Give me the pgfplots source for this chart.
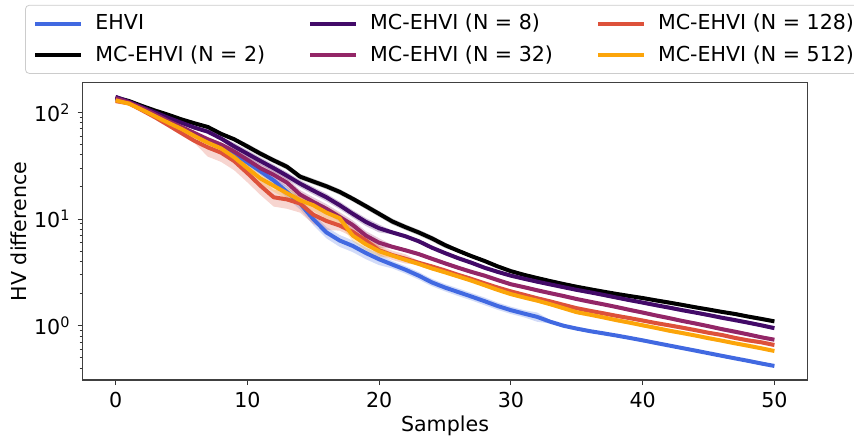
\documentclass[border=0pt]{standalone}
\usepackage{pgfplots}
\pgfplotsset{compat=1.18}
\usepackage{pgfplotstable}
\usepgfplotslibrary{fillbetween}
\usepackage{fontspec}
\setmainfont{DejaVu Sans}

\definecolor{cEHVI}{HTML}{4169E1}
\definecolor{cNtwo}{HTML}{000000}
\definecolor{cNeight}{HTML}{420A68}
\definecolor{cNthirtytwo}{HTML}{932667}
\definecolor{cNonetwentyeight}{HTML}{DD513A}
\definecolor{cNfivetwelve}{HTML}{FCA50A}

% columns: sample, mean, lower and upper edge of the band
\pgfplotstableread{
s m lo hi
0 133 129 137
1 125 121.3 128.8
2 108 104.8 111.2
3 94 91.2 96.8
4 81 78.6 83.4
5 71 68.9 73.1
6 62 60.1 63.9
7 54 52.4 55.6
8 49 47.5 50.5
9 41 37.7 44.3
10 34 31.3 36.7
11 28 25.8 30.2
12 23 21.2 24.8
13 18 15.8 20.2
14 14 12.3 15.7
15 10 8.8 11.2
16 7.5 6.6 8.4
17 6.3 5.5 7.1
18 5.6 4.9 6.3
19 4.8 4.2 5.4
20 4.2 3.7 4.7
21 3.75 3.45 4.05
22 3.35 3.08 3.62
23 2.95 2.71 3.19
24 2.55 2.35 2.75
25 2.28 2.10 2.46
26 2.07 1.90 2.24
27 1.88 1.73 2.03
28 1.70 1.56 1.84
29 1.53 1.41 1.65
30 1.40 1.29 1.51
31 1.30 1.20 1.40
32 1.21 1.09 1.33
33 1.09 1.05 1.13
34 1.00 0.97 1.03
35 0.94 0.91 0.97
36 0.89 0.86 0.92
37 0.85 0.82 0.88
38 0.81 0.79 0.83
39 0.77 0.75 0.79
40 0.73 0.71 0.75
41 0.69 0.67 0.71
42 0.653 0.633 0.673
43 0.618 0.600 0.636
44 0.585 0.567 0.603
45 0.553 0.536 0.570
46 0.523 0.507 0.539
47 0.495 0.480 0.510
48 0.469 0.455 0.483
49 0.443 0.430 0.456
50 0.42 0.407 0.433
}\tblEHVI

\pgfplotstableread{
s m lo hi
0 138 132.5 143.5
1 128 122.9 133.1
2 115 110.4 119.6
3 104 99.8 108.2
4 95 91.2 98.8
5 86 82.6 89.4
6 79 75.8 82.2
7 73 70.1 75.9
8 63 60.5 65.5
9 56 53.8 58.2
10 48 45.1 50.9
11 41 38.5 43.5
12 35.5 33.4 37.6
13 31 29.1 32.9
14 25 23.5 26.5
15 22.5 21.2 23.9
16 20.3 19.1 21.5
17 18 16.9 19.1
18 15.5 14.6 16.4
19 13.2 12.4 14.0
20 11.2 10.5 11.9
21 9.5 8.9 10.1
22 8.4 7.9 8.9
23 7.5 7.05 7.95
24 6.6 6.2 7.0
25 5.7 5.36 6.04
26 5.05 4.85 5.25
27 4.5 4.32 4.68
28 4.05 3.89 4.21
29 3.6 3.46 3.74
30 3.25 3.12 3.38
31 3.0 2.88 3.12
32 2.8 2.69 2.91
33 2.62 2.52 2.72
34 2.46 2.36 2.56
35 2.32 2.23 2.41
36 2.2 2.11 2.29
37 2.09 2.01 2.17
38 1.99 1.91 2.07
39 1.9 1.82 1.98
40 1.82 1.75 1.89
41 1.73 1.66 1.80
42 1.65 1.58 1.72
43 1.57 1.51 1.63
44 1.49 1.43 1.55
45 1.42 1.36 1.48
46 1.35 1.30 1.40
47 1.29 1.24 1.34
48 1.22 1.17 1.27
49 1.16 1.11 1.21
50 1.10 1.06 1.14
}\tblNtwo

\pgfplotstableread{
s m lo hi
0 140 134.4 145.6
1 126 121.0 131.0
2 112 107.5 116.5
3 100 96 104
4 89 85.4 92.6
5 80 76.8 83.2
6 72 69.1 74.9
7 66 63.4 68.6
8 57 54.7 59.3
9 48 44.2 51.8
10 41 37.7 44.3
11 35 32.2 37.8
12 30 27.6 32.4
13 25.5 23.5 27.5
14 21.5 19.8 23.2
15 18.5 17.0 20.0
16 16 14.7 17.3
17 13.5 12.4 14.6
18 11.2 10.3 12.1
19 9.4 8.6 10.2
20 8.2 7.5 8.9
21 7.5 7.2 7.8
22 6.9 6.62 7.18
23 6.2 5.95 6.45
24 5.4 5.18 5.62
25 4.8 4.61 4.99
26 4.3 4.13 4.47
27 3.9 3.74 4.06
28 3.5 3.36 3.64
29 3.2 3.07 3.33
30 2.95 2.83 3.07
31 2.76 2.65 2.87
32 2.59 2.49 2.69
33 2.44 2.34 2.54
34 2.3 2.21 2.39
35 2.17 2.08 2.26
36 2.06 1.98 2.14
37 1.95 1.87 2.03
38 1.84 1.77 1.91
39 1.74 1.67 1.81
40 1.65 1.58 1.72
41 1.56 1.50 1.62
42 1.48 1.42 1.54
43 1.40 1.34 1.46
44 1.33 1.28 1.38
45 1.26 1.21 1.31
46 1.19 1.14 1.24
47 1.13 1.08 1.18
48 1.07 1.03 1.11
49 1.01 0.97 1.05
50 0.95 0.91 0.99
}\tblNeight

\pgfplotstableread{
s m lo hi
0 136 130.6 141.4
1 124 119.0 129.0
2 110 105.6 114.4
3 96 92.2 99.8
4 83 79.7 86.3
5 73 70.1 75.9
6 64 61.4 66.6
7 56 53.8 58.2
8 50 48 52
9 43 38.7 47.3
10 36 32.4 39.6
11 30 27 33
12 26 23.4 28.6
13 22 19.8 24.2
14 17 15.3 18.7
15 14.5 13.1 16.0
16 12.5 11.3 13.8
17 10.5 9.5 11.6
18 8.8 7.9 9.7
19 7.0 6.3 7.7
20 6.0 5.4 6.6
21 5.5 5.28 5.72
22 5.1 4.90 5.30
23 4.7 4.51 4.89
24 4.25 4.08 4.42
25 3.85 3.70 4.00
26 3.5 3.36 3.64
27 3.2 3.07 3.33
28 2.95 2.83 3.07
29 2.68 2.57 2.79
30 2.45 2.35 2.55
31 2.3 2.21 2.39
32 2.15 2.06 2.24
33 2.02 1.94 2.10
34 1.9 1.82 1.98
35 1.78 1.71 1.85
36 1.68 1.61 1.75
37 1.59 1.53 1.65
38 1.5 1.44 1.56
39 1.41 1.35 1.47
40 1.33 1.28 1.38
41 1.25 1.20 1.30
42 1.18 1.13 1.23
43 1.11 1.07 1.15
44 1.05 1.01 1.09
45 0.99 0.95 1.03
46 0.93 0.89 0.97
47 0.88 0.84 0.92
48 0.83 0.80 0.86
49 0.78 0.75 0.81
50 0.74 0.71 0.77
}\tblNthirtytwo

\pgfplotstableread{
s m lo hi
0 128 121.6 134.4
1 122 115.9 128.1
2 105 99.8 110.3
3 90 85.5 94.5
4 76 72.2 79.8
5 64 60.8 67.2
6 54 51.3 56.7
7 47 38.5 55.5
8 42 34.4 49.6
9 35 28.7 41.3
10 27 22.1 31.9
11 20.5 16.8 24.2
12 16 13.1 18.9
13 15.3 12.5 18.1
14 14 11.5 16.5
15 11 9.0 13.0
16 9.6 7.9 11.3
17 8.7 7.8 9.6
18 7.6 6.8 8.4
19 6.3 5.7 6.9
20 5.1 4.6 5.6
21 4.6 4.14 5.06
22 4.25 3.83 4.68
23 3.9 3.74 4.06
24 3.6 3.46 3.74
25 3.3 3.17 3.43
26 3.0 2.88 3.12
27 2.75 2.64 2.86
28 2.5 2.40 2.60
29 2.28 2.19 2.37
30 2.1 2.02 2.18
31 1.95 1.87 2.03
32 1.81 1.74 1.88
33 1.69 1.62 1.76
34 1.57 1.51 1.63
35 1.46 1.40 1.52
36 1.38 1.32 1.44
37 1.31 1.26 1.36
38 1.24 1.19 1.29
39 1.18 1.13 1.23
40 1.12 1.08 1.16
41 1.06 1.02 1.10
42 1.01 0.97 1.05
43 0.96 0.92 1.00
44 0.91 0.87 0.95
45 0.86 0.83 0.89
46 0.82 0.79 0.85
47 0.77 0.74 0.80
48 0.73 0.70 0.76
49 0.70 0.67 0.73
50 0.66 0.63 0.69
}\tblNonetwentyeight

\pgfplotstableread{
s m lo hi
0 130 124.8 135.2
1 121 116.2 125.8
2 106 101.8 110.2
3 92 88.3 95.7
4 80 76.8 83.2
5 70 67.2 72.8
6 60 57.6 62.4
7 52 49.9 54.1
8 46 44.2 47.8
9 38 36.5 39.5
10 30 26.4 33.6
11 24 21.1 26.9
12 20.5 18.0 23.0
13 17.5 15.4 19.6
14 15 13.2 16.8
15 13.5 11.9 15.1
16 11.5 10.1 12.9
17 10.2 9.0 11.4
18 7.0 6.2 7.8
19 5.8 5.1 6.5
20 5.0 4.4 5.6
21 4.55 4.37 4.73
22 4.15 3.98 4.32
23 3.8 3.65 3.95
24 3.45 3.31 3.59
25 3.17 3.04 3.30
26 2.9 2.78 3.02
27 2.65 2.54 2.76
28 2.4 2.30 2.50
29 2.17 2.08 2.26
30 1.98 1.90 2.06
31 1.84 1.77 1.91
32 1.72 1.65 1.79
33 1.59 1.53 1.65
34 1.46 1.40 1.52
35 1.34 1.29 1.39
36 1.27 1.22 1.32
37 1.2 1.15 1.25
38 1.13 1.08 1.18
39 1.07 1.03 1.11
40 1.01 0.97 1.05
41 0.955 0.92 0.99
42 0.90 0.86 0.94
43 0.855 0.82 0.89
44 0.81 0.78 0.84
45 0.765 0.73 0.80
46 0.725 0.70 0.75
47 0.685 0.66 0.71
48 0.65 0.62 0.68
49 0.615 0.59 0.64
50 0.58 0.56 0.60
}\tblNfivetwelve

% shaded band of one series: #1 table, #2 colour, #3 path tag
\newcommand{\band}[3]{%
  \addplot[draw=none, name path=lo#3, forget plot] table[x=s, y=lo] {#1};
  \addplot[draw=none, name path=hi#3, forget plot] table[x=s, y=hi] {#1};
  \addplot[fill=#2, fill opacity=0.24, draw=none, forget plot] fill between[of=lo#3 and hi#3];
}
% mean curve of one series
\newcommand{\meanline}[2]{%
  \addplot[#2, line width=2pt, line join=round, forget plot] table[x=s, y=m] {#1};
}

\begin{document}
\begin{tikzpicture}
\begin{axis}[
  name=ax,
  scale only axis,
  width=362.3pt, height=148.65pt,
  ymode=log,
  xmin=-2.5, xmax=52.5,
  ymin=0.31, ymax=190,
  xtick={0,10,20,30,40,50},
  ytick={1,10,100},
  yticklabels={10\textsuperscript{0},10\textsuperscript{1},10\textsuperscript{2}},
  minor ytick={0.4,0.5,0.6,0.7,0.8,0.9,2,3,4,5,6,7,8,9,20,30,40,50,60,70,80,90},
  xtick pos=bottom, ytick pos=left,
  tick align=outside,
  major tick length=2.6pt, minor tick length=1.5pt,
  tick style={black!80, line width=0.5pt},
  axis line style={black!75, line width=0.6pt},
  /pgf/number format/assume math mode=true,
  tick label style={font=\fontsize{10.3}{12}\selectfont},
  label style={font=\fontsize{10.3}{12}\selectfont},
  xlabel={Samples},
  ylabel={HV difference},
  xlabel style={at={(axis description cs:0.5,-0.174)}, anchor=base},
  ylabel style={at={(axis description cs:-0.0769,0.5)}, anchor=base},
  legend columns=3,
  legend cell align=left,
  legend style={
    at={(axis description cs:-0.0796,1.262)}, anchor=north west,
    font=\fontsize{10.3}{12}\selectfont,
    draw=black!20, rounded corners=2pt, fill=white,
    inner xsep=4pt, inner ysep=2.5pt,
    row sep=2.5pt, column sep=4pt,
    /tikz/every even column/.append style={column sep=19.5pt},
  },
  legend image code/.code={\draw[#1, line width=2pt] (0pt,0pt) -- (23pt,0pt);},
]
\band{\tblEHVI}{cEHVI}{a}
\band{\tblNtwo}{cNtwo}{b}
\band{\tblNeight}{cNeight}{c}
\band{\tblNthirtytwo}{cNthirtytwo}{d}
\band{\tblNonetwentyeight}{cNonetwentyeight}{e}
\band{\tblNfivetwelve}{cNfivetwelve}{f}

\meanline{\tblEHVI}{cEHVI}
\meanline{\tblNtwo}{cNtwo}
\meanline{\tblNeight}{cNeight}
\meanline{\tblNthirtytwo}{cNthirtytwo}
\meanline{\tblNonetwentyeight}{cNonetwentyeight}
\meanline{\tblNfivetwelve}{cNfivetwelve}

% legend entries, row by row
\addlegendimage{cEHVI}\addlegendentry{EHVI}
\addlegendimage{cNeight}\addlegendentry{MC-EHVI (N = 8)}
\addlegendimage{cNonetwentyeight}\addlegendentry{MC-EHVI (N = 128)}
\addlegendimage{cNtwo}\addlegendentry{MC-EHVI (N = 2)}
\addlegendimage{cNthirtytwo}\addlegendentry{MC-EHVI (N = 32)}
\addlegendimage{cNfivetwelve}\addlegendentry{MC-EHVI (N = 512)}
\end{axis}
\pgfresetboundingbox
\path[use as bounding box] ([xshift=-41.35pt, yshift=-30.5pt]ax.south west) rectangle ([xshift=23.35pt, yshift=41.35pt]ax.north east);
\end{tikzpicture}
\end{document}
